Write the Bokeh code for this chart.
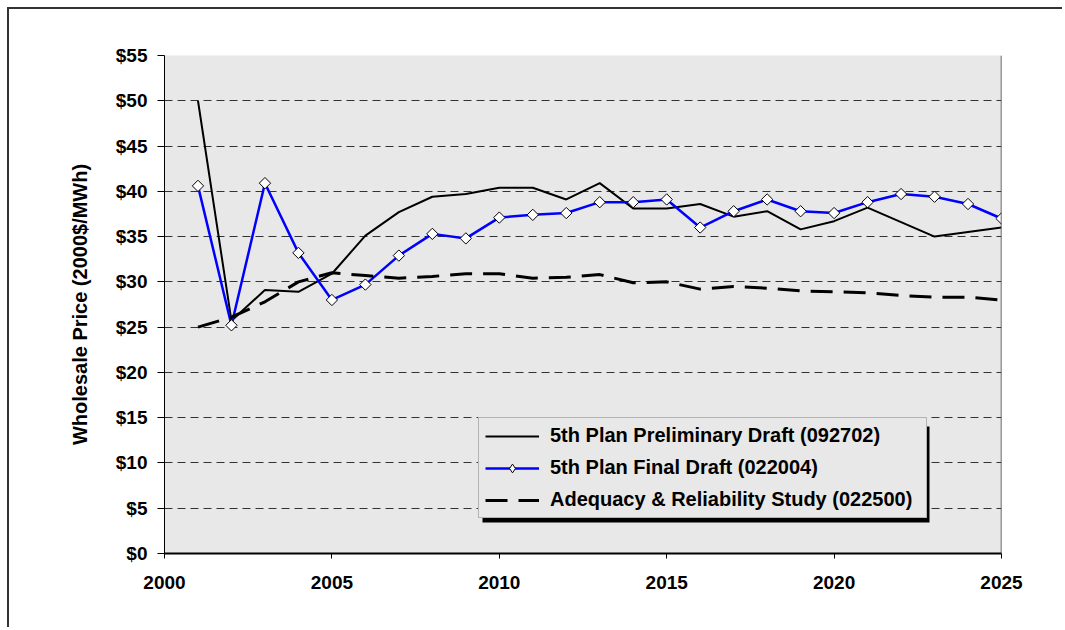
import numpy as np
from bokeh.plotting import figure
from bokeh.models import FixedTicker, Legend, LegendItem, Span, BoxAnnotation
from bokeh.embed import file_html
from bokeh.resources import INLINE

years = list(range(2001, 2026))
preliminary = [50.0, 25.7, 29.1, 28.9, 30.9, 35.1, 37.7, 39.4, 39.7, 40.4,
               40.4, 39.1, 40.9, 38.1, 38.1, 38.6, 37.2, 37.8, 35.8, 36.7,
               38.2, 36.6, 35.0, 35.5, 36.0]
final = [40.6, 25.2, 40.9, 33.2, 28.0, 29.7, 32.9, 35.3, 34.8, 37.1,
         37.4, 37.6, 38.8, 38.8, 39.1, 36.0, 37.8, 39.1, 37.8, 37.6,
         38.8, 39.7, 39.4, 38.6, 37.0]
adequacy = [25.0, 26.1, 27.8, 30.0, 31.0, 30.7, 30.4, 30.6, 30.9, 30.9,
            30.4, 30.5, 30.8, 29.9, 30.0, 29.2, 29.5, 29.3, 29.0, 28.9,
            28.8, 28.5, 28.3, 28.3, 28.0]
series_names = ["5th Plan Preliminary Draft (092702)",
                "5th Plan Final Draft (022004)",
                "Adequacy & Reliability Study (022500)"]
x_ticks = [2000, 2005, 2010, 2015, 2020, 2025]
y_ticks = [0, 5, 10, 15, 20, 25, 30, 35, 40, 45, 50, 55]
y_tick_labels = ["$" + str(v) for v in y_ticks]
y_title = "Wholesale Price (2000$/MWh)"

FONT = "Liberation Sans"
X0, X1, Y0, Y1 = 2000, 2025, 0, 55
FW, FH = 837, 498  # frame size in px

p = figure(width=1055, height=620, output_backend="svg", toolbar_location=None,
           x_range=(X0, X1), y_range=(Y0, Y1),
           min_border_left=155, min_border_right=63, min_border_top=46, min_border_bottom=76)
p.styles = {"margin-left": "7px", "margin-top": "7px",
            "border-left": "2px solid #333333", "border-top": "2px solid #333333"}
p.background_fill_color = "#E8E8E8"
p.border_fill_color = "white"
p.outline_line_color = None

# grid
p.xgrid.grid_line_color = None
p.ygrid.ticker = FixedTicker(ticks=y_ticks)
p.ygrid.grid_line_color = "#333333"
p.ygrid.grid_line_dash = "8 5"
p.ygrid.grid_line_width = 1

# axes
p.xaxis.ticker = FixedTicker(ticks=x_ticks)
p.yaxis.ticker = FixedTicker(ticks=y_ticks)
p.yaxis.major_label_overrides = {v: l for v, l in zip(y_ticks, y_tick_labels)}
for ax in (p.xaxis[0], p.yaxis[0]):
    ax.major_label_text_font = FONT
    ax.major_label_text_font_style = "bold"
    ax.major_label_text_font_size = "19px"
    ax.major_label_text_color = "black"
    ax.minor_tick_line_color = None
    ax.major_tick_in = 0
    ax.axis_line_color = "black"
    ax.major_tick_line_color = "black"
p.xaxis.major_tick_out = 5
p.xaxis.axis_line_width = 2
p.xaxis.major_label_standoff = 17
p.yaxis.major_tick_out = 7
p.yaxis.major_label_standoff = 10
p.yaxis.axis_label = y_title
p.yaxis.axis_label_text_font = FONT
p.yaxis.axis_label_text_font_style = "bold"
p.yaxis.axis_label_text_font_size = "20px"
p.yaxis.axis_label_text_color = "black"
p.yaxis.axis_label_standoff = 22

# right border of plot area
p.add_layout(Span(location=X1, dimension="height", line_color="#404040", line_width=1.5))

r_pre = p.line(years, preliminary, line_color="black", line_width=2)
r_fin = p.line(years, final, line_color="#0000FF", line_width=2.5)
r_fin_m = p.scatter(years, final, marker="square", angle=np.pi / 4, size=8,
                    fill_color="white", line_color="black", line_width=1)
r_ade = p.line(years, adequacy, line_color="black", line_width=3, line_dash="22 11")
# legend swatch for the diamond marker (legend glyphs ignore angle); hidden in plot
r_leg_m = p.scatter(years[:1], final[:1], marker="diamond", size=12,
                    fill_color="white", line_color="black", line_width=1)
r_leg_m.visible = False

# legend with shadow
LX, LY, LW, LH = 314, 35, 447, 96  # legend box offset from frame bottom-left, px
SH = 4
def px_to_x(px):
    return X0 + px * (X1 - X0) / FW
def py_to_y(py):
    return Y0 + py * (Y1 - Y0) / FH
shadow = BoxAnnotation(left=px_to_x(LX + SH), right=px_to_x(LX + LW + SH),
                       bottom=py_to_y(LY - SH), top=py_to_y(LY + LH - SH),
                       fill_color="black", fill_alpha=1.0, line_color=None)
p.add_layout(shadow)

legend = Legend(items=[LegendItem(label=series_names[0], renderers=[r_pre]),
                       LegendItem(label=series_names[1], renderers=[r_fin, r_leg_m]),
                       LegendItem(label=series_names[2], renderers=[r_ade])],
                location=(LX, LY))
legend.label_text_font = FONT
legend.label_text_font_style = "bold"
legend.label_text_font_size = "20px"
legend.label_text_color = "black"
legend.label_height = 22
legend.glyph_height = 22
legend.glyph_width = 54
legend.spacing = 9
legend.padding = 6
legend.margin = 0
legend.label_standoff = 11
legend.label_width = 370
legend.border_line_color = "#808080"
legend.border_line_width = 1
legend.background_fill_color = "#E8E8E8"
legend.background_fill_alpha = 1.0
p.add_layout(legend)

open("out.html", "w").write(file_html(p, INLINE))
